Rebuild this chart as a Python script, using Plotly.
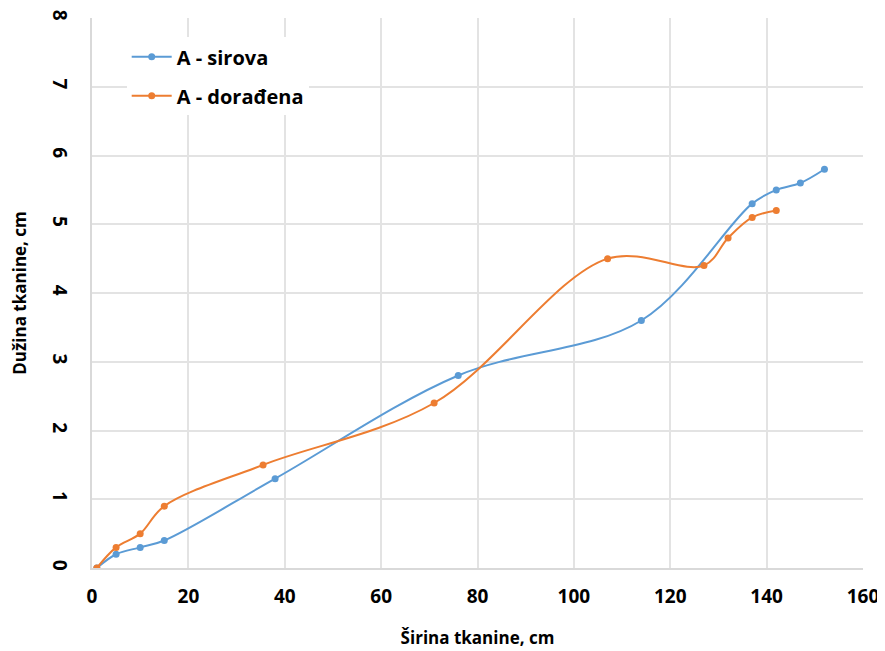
import plotly.graph_objects as go

# A - sirova
x_sirova = [1, 5, 10, 15, 38, 76, 114, 137, 142, 147, 152]
y_sirova = [0, 0.2, 0.3, 0.4, 1.3, 2.8, 3.6, 5.3, 5.5, 5.6, 5.8]

# A - dorađena
x_dorad = [1, 5, 10, 15, 35.5, 71, 107, 127, 132, 137, 142]
y_dorad = [0, 0.3, 0.5, 0.9, 1.5, 2.4, 4.5, 4.4, 4.8, 5.1, 5.2]

x_ticks = [0, 20, 40, 60, 80, 100, 120, 140, 160]
y_ticks = [0, 1, 2, 3, 4, 5, 6, 7, 8]

BLUE = "#5B9BD5"
ORANGE = "#ED7D31"
FONT = "Open Sans"

fig = go.Figure()
fig.add_trace(go.Scatter(
    x=x_sirova, y=y_sirova, name="A - sirova", legendgroup="a",
    mode="lines+markers",
    line=dict(color=BLUE, width=2, shape="spline", smoothing=1.0),
    marker=dict(color=BLUE, size=7),
))
fig.add_trace(go.Scatter(
    x=x_dorad, y=y_dorad, name="A - dorađena", legendgroup="b",
    mode="lines+markers",
    line=dict(color=ORANGE, width=2, shape="spline", smoothing=1.0),
    marker=dict(color=ORANGE, size=7),
))

# page body has an 8px margin, so the figure is sized to fit the window
fig.update_layout(
    width=877, height=643,
    margin=dict(l=84, r=22, t=10, b=83),
    plot_bgcolor="white", paper_bgcolor="white",
    font=dict(family=FONT, color="black", size=15),
    showlegend=True,
    legend=dict(
        x=0.045, y=0.965, xanchor="left", yanchor="top",
        bgcolor="white", font=dict(size=20, family=FONT, weight="bold"),
        itemwidth=40, tracegroupgap=10,
    ),
    xaxis=dict(
        range=[0, 160], tickvals=x_ticks, automargin=False,
        showgrid=True, gridcolor="#e3e3e3", gridwidth=2,
        zeroline=False, showline=True, linecolor="#d9d9d9", linewidth=2,
        tickfont=dict(size=19, family=FONT, weight="bold"),
        ticks="", ticklabelstandoff=10, ticklabeloverflow="allow",
        title=dict(text="Širina tkanine, cm", font=dict(size=17, family=FONT, weight="bold"), standoff=24),
    ),
    yaxis=dict(
        range=[0, 8], tickvals=y_ticks, automargin=False,
        showgrid=True, gridcolor="#e3e3e3", gridwidth=2,
        zeroline=False, showline=True, linecolor="#d9d9d9", linewidth=2,
        tickfont=dict(size=19, family=FONT, weight="bold"), tickangle=90,
        ticks="", ticklabelstandoff=14, ticklabeloverflow="allow",
        title=dict(text="Dužina tkanine, cm", font=dict(size=17, family=FONT, weight="bold"), standoff=26),
    ),
)

fig.write_html("out.html")
